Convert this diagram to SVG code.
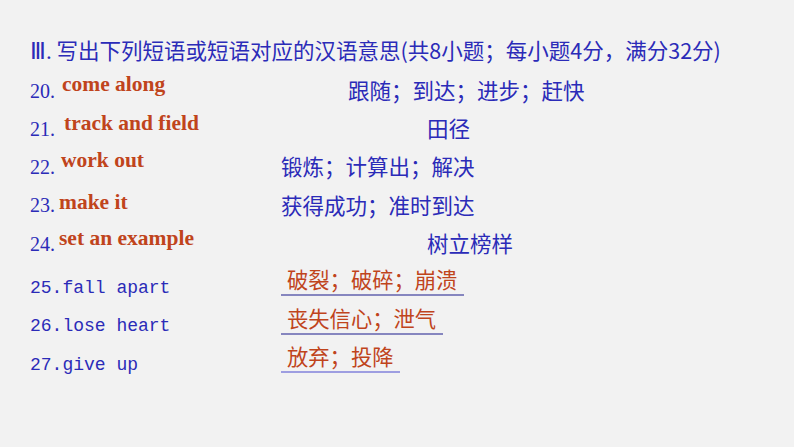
<svg xmlns="http://www.w3.org/2000/svg" width="794" height="447" viewBox="0 0 794 447">
<style>
.b{fill:#2b2bb8;font-family:"Noto Sans CJK SC","Liberation Sans",sans-serif;font-size:21.5px}
.n{fill:#2b2bb8;font-family:"Liberation Serif",serif;font-size:20px}
.m{fill:#2b2bb8;font-family:"Liberation Mono",monospace;font-size:18px}
.r{fill:#c0441c;font-family:"Liberation Serif",serif;font-size:21.5px;font-weight:bold}
.rc{fill:#c0441c;font-family:"Noto Sans CJK SC",sans-serif;font-size:21.3px}
.u{stroke:#1a1a8c;stroke-width:1.2}
</style>
<rect width="794" height="447" fill="#f2f2f2"/>
<text x="30" y="59" class="b"><tspan class="n" style="font-size:23px">Ⅲ.</tspan> 写出下列短语或短语对应的汉语意思(共8小题；每小题4分，满分32分)</text>
<text x="30" y="98" class="n">20.</text><text x="62" y="91" class="r">come along</text>
<text x="30" y="136" class="n">21.</text><text x="64" y="130" class="r">track and field</text>
<text x="30" y="174" class="n">22.</text><text x="61" y="167" class="r">work out</text>
<text x="30" y="212" class="n">23.</text><text x="59" y="209" class="r">make it</text>
<text x="30" y="251" class="n">24.</text><text x="59" y="245" class="r">set an example</text>
<text x="30" y="293" class="m">25.fall apart</text>
<text x="30" y="331" class="m">26.lose heart</text>
<text x="30" y="370" class="m">27.give up</text>
<text x="348" y="99" class="b">跟随；到达；进步；赶快</text>
<text x="427" y="137" class="b">田径</text>
<text x="281" y="175" class="b">锻炼；计算出；解决</text>
<text x="281" y="214" class="b">获得成功；准时到达</text>
<text x="427" y="252" class="b">树立榜样</text>
<text x="287" y="288" class="rc">破裂；破碎；崩溃</text>
<text x="287" y="327" class="rc">丧失信心；泄气</text>
<text x="287" y="365" class="rc">放弃；投降</text>
<line x1="281" y1="295" x2="464" y2="295" class="u"/>
<line x1="281" y1="334" x2="443" y2="334" class="u"/>
<line x1="281" y1="372" x2="400" y2="372" class="u" style="stroke:#4a4ad0"/>
</svg>
